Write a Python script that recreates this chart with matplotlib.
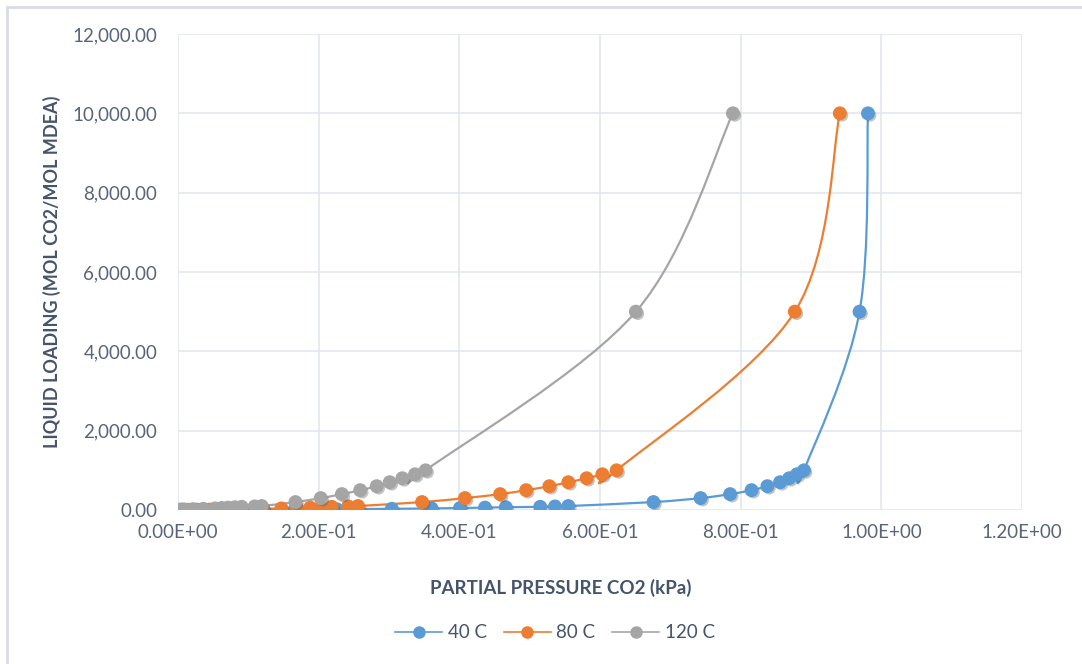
import matplotlib
matplotlib.use("Agg")
import matplotlib.pyplot as plt
import matplotlib.ticker as ticker
import matplotlib.patheffects as pe
from matplotlib.path import Path
from matplotlib.patches import PathPatch
from matplotlib.lines import Line2D

plt.rcParams["font.family"] = ["Lato", "DejaVu Sans"]

# liquid loading levels (y) and partial pressure readings (x) per temperature
y_40 = [10000, 5000, 1000, 900, 800, 700, 600, 500, 400, 300, 200, 100,
        90, 80, 70, 60, 50, 40, 30, 20, 10, 9, 8, 7, 6, 5, 4, 3, 2, 1]
x_40 = [0.981, 0.969, 0.890, 0.880, 0.869, 0.856, 0.838, 0.8155, 0.785, 0.743,
        0.676, 0.555, 0.536, 0.515, 0.466, 0.4365, 0.401, 0.3605, 0.304, 0.2256,
        0.166, 0.121, 0.09, 0.074, 0.055, 0.04, 0.028, 0.018, 0.01, 0.004]

y_80 = [10000, 5000, 1000, 900, 800, 700, 600, 500, 400, 300, 200, 100,
        90, 80, 70, 60, 50, 40, 30, 20, 10, 9, 8, 7, 6, 5, 4, 3, 2, 1]
x_80 = [0.941, 0.877, 0.6236, 0.6033, 0.581, 0.555, 0.528, 0.495, 0.458, 0.408,
        0.347, 0.256, 0.242, 0.2185, 0.203, 0.188, 0.169, 0.147, 0.121, 0.09,
        0.06, 0.045, 0.035, 0.027, 0.02, 0.014, 0.01, 0.006, 0.003, 0.001]

y_120 = [10000, 5000, 1000, 900, 800, 700, 600, 500, 400, 300, 200, 100,
         90, 80, 70, 60, 50, 40, 30, 20, 10, 9, 8, 7, 6, 5, 4, 3, 2, 1]
x_120 = [0.789, 0.651, 0.352, 0.337, 0.319, 0.301, 0.2825, 0.259, 0.233, 0.203,
         0.167, 0.119, 0.109, 0.0906, 0.081, 0.071, 0.062, 0.0526, 0.036, 0.0218,
         0.010, 0.008, 0.006, 0.005, 0.004, 0.003, 0.002, 0.0015, 0.001, 0.0005]

series = [("40 C", x_40, y_40, "#5B9BD5"),
          ("80 C", x_80, y_80, "#ED7D31"),
          ("120 C", x_120, y_120, "#A5A5A5")]

TXT = "#44546A"
TICK = "#5A6478"
GRID = "#E3E6EC"


def smooth_path(xs, ys):
    # excel style smoothed line: cubic bezier through every point
    pts = list(zip(xs, ys))
    n = len(pts)
    verts = [pts[0]]
    codes = [Path.MOVETO]
    for i in range(n - 1):
        p0 = pts[i - 1] if i > 0 else pts[i]
        p1 = pts[i]
        p2 = pts[i + 1]
        p3 = pts[i + 2] if i + 2 < n else pts[i + 1]
        c1 = (p1[0] + (p2[0] - p0[0]) / 6, p1[1] + (p2[1] - p0[1]) / 6)
        c2 = (p2[0] - (p3[0] - p1[0]) / 6, p2[1] - (p3[1] - p1[1]) / 6)
        verts += [c1, c2, p2]
        codes += [Path.CURVE4] * 3
    return Path(verts, codes)


fig = plt.figure(figsize=(10.82, 6.64), dpi=100)
ax = fig.add_axes([178 / 1082, 1 - 510 / 664, (1022 - 178) / 1082, (510 - 34) / 664])

shadow = [pe.SimplePatchShadow(offset=(1.5, -1.5), alpha=0.35, shadow_rgbFace="#555555"), pe.Normal()]

handles = []
for name, xs, ys, col in series:
    patch = PathPatch(smooth_path(xs, ys), facecolor="none", edgecolor=col,
                      lw=1.6, zorder=3)
    ax.add_patch(patch)
    ax.plot(xs, ys, ls="none", marker="o", ms=9, color=col, mec=col,
            zorder=4, path_effects=shadow)
    handles.append(Line2D([], [], color=col, lw=1.2, marker="o", ms=8, label=name))

ax.set_xlim(0, 1.2)
ax.set_ylim(0, 12000)
ax.xaxis.set_major_locator(ticker.MultipleLocator(0.2))
ax.yaxis.set_major_locator(ticker.MultipleLocator(2000))
ax.xaxis.set_major_formatter(ticker.FuncFormatter(lambda v, p: f"{v:.2E}"))
ax.yaxis.set_major_formatter(ticker.FuncFormatter(lambda v, p: f"{v:,.2f}"))
ax.grid(True, color=GRID, lw=1.2)
ax.set_axisbelow(True)
for s in ax.spines.values():
    s.set_visible(False)
ax.tick_params(length=0, labelsize=13.5, colors=TICK)
ax.tick_params(axis="y", pad=15)
ax.tick_params(axis="x", pad=10)

ax.set_ylabel("LIQUID LOADING (MOL CO2/MOL MDEA)", fontsize=13, fontweight="bold",
              color=TXT, labelpad=8)
fig.text(561 / 1082, 1 - 588 / 664, "PARTIAL PRESSURE CO2 (kPa)", fontsize=13.5,
         fontweight="bold", color=TXT, ha="center", va="center")

leg = fig.legend(handles=handles, loc="center", ncol=3, frameon=False,
                 bbox_to_anchor=(555 / 1082, 1 - 633 / 664), fontsize=13.5,
                 handlelength=2.5, columnspacing=0.9, handletextpad=0.3)
for t in leg.get_texts():
    t.set_color(TXT)

# chart border (top and left edges visible in the crop)
fig.add_artist(Line2D([7 / 1082, 7 / 1082], [0, 1 - 7 / 664], transform=fig.transFigure,
                      color="#D9DCE1", lw=2))
fig.add_artist(Line2D([7 / 1082, 1], [1 - 7 / 664, 1 - 7 / 664], transform=fig.transFigure,
                      color="#D9DCE1", lw=2))

fig.savefig("out.png", dpi=100)
